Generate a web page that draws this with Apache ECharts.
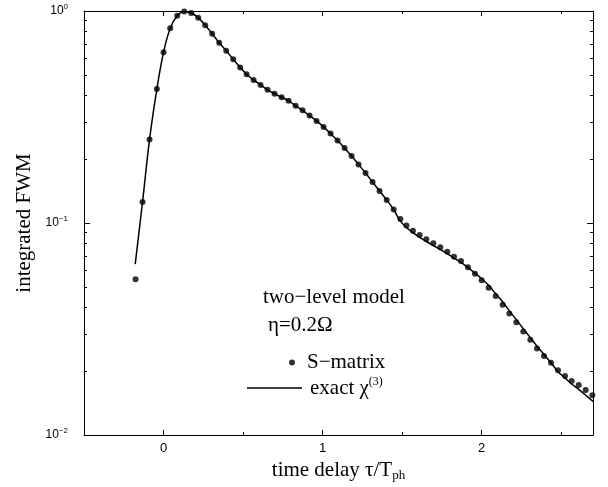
<!DOCTYPE html>
<html lang="en">
<head>
<meta charset="UTF-8">
<title>integrated FWM</title>
<script src="https://cdn.jsdelivr.net/npm/echarts@6/dist/echarts.min.js"></script>
<style>
    html, body { margin: 0; padding: 0; background: #fff; }
    #chart { width: 608px; height: 487px; }
</style>
</head>
<body>
<div id="chart"></div>
<script>
// S-matrix points (tau/Tph, integrated FWM)
var dotX = [-0.176, -0.132, -0.088, -0.042, 0, 0.042, 0.086, 0.130, 0.174, 0.218,
    0.262, 0.306, 0.350, 0.394, 0.438, 0.482, 0.522, 0.566, 0.610, 0.654,
    0.698, 0.742, 0.786, 0.830, 0.874, 0.918, 0.962, 1.006, 1.050, 1.094,
    1.138, 1.182, 1.226, 1.270, 1.314, 1.358, 1.403, 1.447, 1.489, 1.527,
    1.568, 1.610, 1.652, 1.696, 1.740, 1.784, 1.826, 1.870, 1.914, 1.958,
    2.000, 2.044, 2.088, 2.132, 2.174, 2.218, 2.262, 2.306, 2.348, 2.392,
    2.436, 2.480, 2.524, 2.566, 2.610, 2.654, 2.696];
var dotY = [0.0543, 0.1256, 0.248, 0.4285, 0.639, 0.829, 0.950, 0.995, 0.978, 0.930,
    0.856, 0.781, 0.709, 0.650, 0.592, 0.542, 0.503, 0.473, 0.448, 0.425,
    0.407, 0.392, 0.3775, 0.3575, 0.340, 0.321, 0.303, 0.284, 0.264, 0.245,
    0.226, 0.207, 0.189, 0.172, 0.156, 0.1416, 0.1284, 0.1158, 0.1044, 0.0973,
    0.092, 0.0877, 0.0838, 0.0802, 0.0768, 0.0732, 0.0693, 0.0662, 0.0618, 0.0577,
    0.0537, 0.0495, 0.0452, 0.0412, 0.0374, 0.0340, 0.0308, 0.0281, 0.0256, 0.0236,
    0.0219, 0.0202, 0.0190, 0.0180, 0.0172, 0.0163, 0.0154];

// exact chi(3) curve
var lineX = [-0.178, -0.132, -0.088, -0.042, 0, 0.042, 0.086, 0.130, 0.174, 0.218,
    0.262, 0.306, 0.350, 0.394, 0.438, 0.482, 0.522, 0.566, 0.610, 0.654,
    0.698, 0.742, 0.786, 0.830, 0.874, 0.918, 0.962, 1.006, 1.050, 1.094,
    1.138, 1.182, 1.226, 1.270, 1.314, 1.358, 1.403, 1.447, 1.489, 1.527,
    1.568, 1.610, 1.652, 1.696, 1.740, 1.784, 1.826, 1.870, 1.914, 1.958,
    2.000, 2.044, 2.088, 2.132, 2.174, 2.218, 2.262, 2.306, 2.348, 2.392,
    2.436, 2.480, 2.524, 2.566, 2.610, 2.654, 2.700];
var lineY = [0.064, 0.1256, 0.248, 0.4285, 0.639, 0.829, 0.950, 0.995, 0.978, 0.930,
    0.856, 0.781, 0.709, 0.650, 0.592, 0.542, 0.503, 0.473, 0.448, 0.425,
    0.407, 0.392, 0.3775, 0.3575, 0.340, 0.321, 0.303, 0.284, 0.264, 0.245,
    0.226, 0.207, 0.189, 0.172, 0.156, 0.1416, 0.1284, 0.1158, 0.1020, 0.0952,
    0.0900, 0.0855, 0.0818, 0.0783, 0.0750, 0.0717, 0.0683, 0.0652, 0.0616, 0.0580,
    0.0546, 0.0508, 0.0464, 0.0425, 0.0385, 0.0350, 0.0317, 0.0288, 0.0262, 0.0240,
    0.0219, 0.0199, 0.0186, 0.0174, 0.0164, 0.0154, 0.0144];

// ticks
var xMajor = [0, 1, 2];
var xMinor = [0.5, 1.5, 2.5];
var yMinor = [0.02, 0.03, 0.04, 0.05, 0.06, 0.07, 0.08, 0.09,
    0.2, 0.3, 0.4, 0.5, 0.6, 0.7, 0.8, 0.9];

var serif = '"Liberation Serif", "Times New Roman", serif';
var sans = '"Liberation Sans", Arial, sans-serif';
var frame = '#000';

function pairs(xs, ys) {
    var out = [];
    for (var i = 0; i < xs.length; i++) out.push([xs[i], ys[i]]);
    return out;
}
var yMinorLog = yMinor.map(function (v) { return Math.log10(v); });

// x axis: frame line + integer labels
function xMainDef(pos) {
    return {
        type: 'value', position: pos, min: -0.5, max: 2.7, interval: 0.5,
        axisLine: { show: true, onZero: false, lineStyle: { color: frame, width: 1 } },
        axisTick: { show: false },
        axisLabel: {
            show: pos === 'bottom', margin: 7, fontFamily: sans, fontSize: 13, color: '#000',
            formatter: function (v) { return xMajor.indexOf(v) >= 0 ? String(v) : ''; }
        },
        splitLine: { show: false }
    };
}
// x ticks only
function xTickDef(pos, ticks, len) {
    return {
        type: 'value', position: pos, min: -0.5, max: 2.7,
        axisLine: { show: false, onZero: false },
        axisTick: { show: true, inside: true, length: len, customValues: ticks,
            lineStyle: { color: frame, width: 1 } },
        axisLabel: { show: false },
        splitLine: { show: false }
    };
}
function yMinorDef(pos) {
    return {
        type: 'value', position: pos, min: -2, max: 0,
        axisLine: { show: false, onZero: false },
        axisTick: { show: true, inside: true, length: 3, customValues: yMinorLog,
            lineStyle: { color: frame, width: 1 } },
        axisLabel: { show: false },
        splitLine: { show: false }
    };
}
function yMainDef(pos) {
    return {
        type: 'log', logBase: 10, position: pos, min: 0.01, max: 1,
        axisLine: { show: true, onZero: false, lineStyle: { color: frame, width: 1 } },
        axisTick: { show: true, inside: true, length: 6, lineStyle: { color: frame, width: 1 } },
        axisLabel: {
            show: pos === 'left', margin: 16,
            formatter: function (v) {
                var e = Math.round(Math.log10(v));
                return '{b|10}{s|' + String(e).replace('-', '\u2212') + '}';
            },
            rich: {
                b: { fontFamily: sans, fontSize: 12, color: '#000' },
                s: { fontFamily: sans, fontSize: 8, color: '#000', padding: [0, 0, 9, 0] }
            }
        },
        splitLine: { show: false },
        minorTick: { show: false }
    };
}

var chart = echarts.init(document.getElementById('chart'));

var xBottom = xMainDef('bottom');
xBottom.name = '{t|time delay \u03c4/T}{sub|ph}';
xBottom.nameLocation = 'middle';
xBottom.nameGap = 24;
xBottom.nameTextStyle = {
    rich: {
        t: { fontFamily: serif, fontSize: 21, color: '#000' },
        sub: { fontFamily: serif, fontSize: 13, color: '#000', padding: [10, 0, 0, 0] }
    }
};

var yLeft = yMainDef('left');
yLeft.name = 'integrated FWM';
yLeft.nameLocation = 'middle';
yLeft.nameRotate = 90;
yLeft.nameGap = 46;
yLeft.nameTextStyle = { fontFamily: serif, fontSize: 21, color: '#000' };

var option = {
    animation: false,
    backgroundColor: '#fff',
    grid: { left: 84, right: 15, top: 11, bottom: 52 },
    xAxis: [
        xBottom,
        xTickDef('bottom', xMajor, 5),
        xTickDef('bottom', xMinor, 3),
        xMainDef('top'),
        xTickDef('top', xMajor, 5),
        xTickDef('top', xMinor, 3)
    ],
    yAxis: [
        yLeft,
        yMinorDef('left'),
        yMainDef('right'),
        yMinorDef('right')
    ],
    legend: [
        {
            data: ['S\u2212matrix'], left: 284, top: 347, icon: 'circle',
            itemWidth: 20, itemHeight: 6, selectedMode: false,
            textStyle: { fontFamily: serif, fontSize: 21, color: '#000' }
        },
        {
            data: ['exact \u03c7(3)'], left: 242, top: 371, icon: 'rect',
            itemWidth: 55, itemHeight: 1.5, selectedMode: false,
            itemStyle: { color: '#000' },
            formatter: function () { return '{t|exact \u03c7}{s|(3)}'; },
            textStyle: {
                fontFamily: serif, fontSize: 21, color: '#000', padding: [0, 0, 0, 3],
                rich: {
                    t: { fontFamily: serif, fontSize: 21, color: '#000' },
                    s: { fontFamily: serif, fontSize: 12, color: '#000', padding: [0, 0, 12, 0] }
                }
            }
        }
    ],
    graphic: [
        { type: 'text', left: 263, top: 287,
          style: { text: 'two\u2212level model', font: '21px ' + serif, fill: '#000' } },
        { type: 'text', left: 268, top: 315,
          style: { text: '\u03b7=0.2\u03a9', font: '21px ' + serif, fill: '#000' } }
    ],
    series: [
        {
            name: 'exact \u03c7(3)', type: 'line', xAxisIndex: 0, yAxisIndex: 0,
            data: pairs(lineX, lineY), symbol: 'none', smooth: 0.3,
            lineStyle: { color: '#000', width: 1.5 }, itemStyle: { color: '#000' },
            z: 2
        },
        {
            name: 'S\u2212matrix', type: 'scatter', xAxisIndex: 0, yAxisIndex: 0,
            data: pairs(dotX, dotY), symbol: 'circle', symbolSize: 6,
            itemStyle: { color: '#000' }, z: 3
        }
    ]
};
chart.setOption(option);
</script>
</body>
</html>
